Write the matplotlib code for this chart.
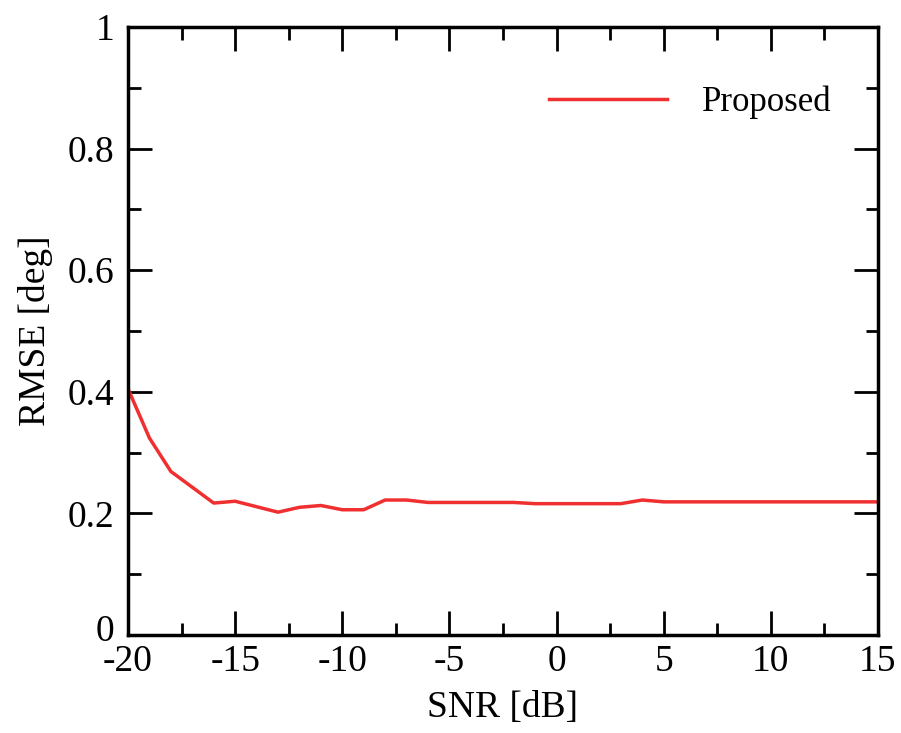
import matplotlib
matplotlib.use("Agg")
import matplotlib.pyplot as plt
import matplotlib.transforms as mtransforms
from matplotlib.ticker import MultipleLocator

snr = [-20, -19, -18, -17, -16, -15, -14, -13, -12, -11, -10, -9, -8, -7, -6, -5, -4, -3, -2,
       -1, 0, 1, 2, 3, 4, 5, 6, 7, 8, 9, 10, 11, 12, 13, 14, 15]
rmse = [0.405, 0.324, 0.269, 0.243, 0.217, 0.220, 0.211, 0.202, 0.210, 0.213, 0.206, 0.206,
        0.222, 0.222, 0.218, 0.218, 0.218, 0.218, 0.218, 0.216, 0.216, 0.216, 0.216, 0.216,
        0.222, 0.219, 0.219, 0.219, 0.219, 0.219, 0.219, 0.219, 0.219, 0.219, 0.219, 0.219]
xticks = [-20, -15, -10, -5, 0, 5, 10, 15]
yticks = [0, 0.2, 0.4, 0.6, 0.8, 1.0]
yticklabels = ['0', '0.2', '0.4', '0.6', '0.8', '1']

plt.rcParams['font.family'] = ['Liberation Serif', 'DejaVu Serif']

fig = plt.figure(figsize=(9.01, 7.33), dpi=100)
ax = fig.add_axes([128/901, 1 - 635/733, 750/901, 608/733])
ax.plot(snr, rmse, color='#f03030', lw=2.5, label='Proposed')
ax.set_xlim(-20, 15)
ax.set_ylim(0, 1)
ax.set_xticks(xticks)
ax.set_xticklabels([str(v) for v in xticks])
ax.xaxis.set_minor_locator(MultipleLocator(2.5))
ax.set_yticks(yticks)
ax.set_yticklabels(yticklabels)
ax.yaxis.set_minor_locator(MultipleLocator(0.1))
ax.tick_params(which='both', direction='in', top=True, right=True, labelsize=27, width=2)
ax.tick_params(axis='x', pad=7)
ax.tick_params(axis='y', pad=10)
ax.tick_params(which='major', length=17)
ax.tick_params(which='minor', length=9)
for s in ax.spines.values():
    s.set_linewidth(2.5)
ax.set_xlabel('SNR [dB]', fontsize=27, labelpad=8)
ax.set_ylabel('RMSE [deg]', fontsize=27, labelpad=10)
leg = ax.legend(loc='upper right', frameon=False, fontsize=25, handlelength=3.4,
                handletextpad=1.0, bbox_to_anchor=(0.98, 0.955))

# nudge the y "0" label up a bit, as in the reference
lbl0 = ax.get_yticklabels()[0]
lbl0.set_transform(lbl0.get_transform() + mtransforms.ScaledTranslation(0, 7/100, fig.dpi_scale_trans))
fig.savefig('out.png', dpi=100)
